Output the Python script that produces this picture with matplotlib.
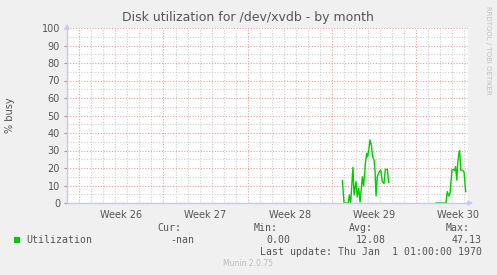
#!/usr/bin/env python3
# Munin style disk utilization graph (by month)

import matplotlib
matplotlib.use("Agg")
import matplotlib.pyplot as plt
from matplotlib.ticker import FixedLocator, MultipleLocator, NullFormatter

# data (x = days from left edge of graph, y = % busy)
days1 = [22.89, 23.03, 23.38, 23.47, 23.58, 23.77, 23.86, 24.02, 24.13, 24.25,
         24.36, 24.55, 24.66, 24.80, 24.91, 24.99, 25.08, 25.19, 25.30, 25.41,
         25.52, 25.60, 25.69, 25.79, 25.96, 26.08, 26.21, 26.35, 26.46, 26.63,
         26.74]
util1 = [12.7, 0.0, 0.0, 4.6, 0.0, 20.4, 4.6, 12.2, 3.6, 8.4,
         0.5, 15.0, 9.7, 22.7, 28.4, 26.5, 30.3, 36.0, 33.0, 26.5,
         24.6, 18.9, 4.0, 15.0, 17.9, 18.9, 12.2, 11.2, 19.2, 19.2,
         11.8]
days2 = [30.67, 31.50, 31.61, 31.73, 31.84, 32.00, 32.10, 32.23, 32.30, 32.40,
         32.48, 32.59, 32.64, 32.73, 32.89, 33.00, 33.14]
util2 = [0.0, 0.0, 6.5, 4.0, 5.5, 18.9, 19.2, 18.6, 20.8, 13.1,
         22.7, 29.3, 29.9, 18.9, 18.6, 17.9, 6.5]

week_pos = [1.02, 8.02, 15.02, 22.02, 29.02]
week_labels = ["Week 26", "Week 27", "Week 28", "Week 29", "Week 30"]

legend_name = "Utilization"
legend_cur = "-nan"
legend_min = "0.00"
legend_avg = "12.08"
legend_max = "47.13"
last_update = "Last update: Thu Jan  1 01:00:00 1970"

BG = "#F0F0F0"
MAJOR = "#E8A0A0"
MINOR = "#D0D0D0"
AXIS = "#C8C8F0"
TXT = "#555555"
GREEN = "#00CC00"

W, H = 497, 275
fig = plt.figure(figsize=(W / 100, H / 100), dpi=100, facecolor=BG)
ax = fig.add_axes([67 / W, (H - 203) / H, 401 / W, 175 / H])
ax.set_facecolor("white")

ax.plot(days1, util1, color=GREEN, linewidth=1.0)
ax.plot(days2, util2, color=GREEN, linewidth=1.0)

ax.set_xlim(0, 401 / 12.03)
ax.set_ylim(0, 100)

# grid
ax.xaxis.set_major_locator(FixedLocator(week_pos))
ax.xaxis.set_minor_locator(FixedLocator([week_pos[0] + d for d in range(-1, 33)]))
ax.yaxis.set_major_locator(MultipleLocator(10))
ax.yaxis.set_minor_locator(MultipleLocator(5))
ax.grid(which="minor", color=MINOR, linewidth=0.8, linestyle=(0, (1, 1.5)))
ax.grid(which="major", color=MAJOR, linewidth=0.8, linestyle=(0, (1, 1.5)))
ax.set_axisbelow(True)

ax.xaxis.set_major_formatter(NullFormatter())
ax.tick_params(axis="x", which="both", length=0)
ax.tick_params(axis="y", which="major", length=2, color="#999999",
               labelsize=7, labelcolor=TXT, pad=3)
ax.tick_params(axis="y", which="minor", length=0)

for x, lab in zip(week_pos, week_labels):
    ax.text(x + 3.5, -4, lab, ha="center", va="top", fontsize=7, color=TXT,
            transform=ax.transData, clip_on=False)

for s in ["top", "right"]:
    ax.spines[s].set_visible(False)
for s in ["left", "bottom"]:
    ax.spines[s].set_color(AXIS)
    ax.spines[s].set_linewidth(1.0)

# arrows at axis ends
ax.annotate("", xy=(0, 1.04), xytext=(0, 0.98), xycoords="axes fraction",
            arrowprops=dict(arrowstyle="-|>", color=AXIS, lw=1.0,
                            mutation_scale=7), annotation_clip=False)
ax.annotate("", xy=(1.02, 0), xytext=(0.99, 0), xycoords="axes fraction",
            arrowprops=dict(arrowstyle="-|>", color=AXIS, lw=1.0,
                            mutation_scale=7), annotation_clip=False)

fig.text(248 / W, 1 - 18 / H, "Disk utilization for /dev/xvdb - by month",
         ha="center", va="center", fontsize=9, color=TXT)
fig.text(10 / W, 1 - 115 / H, "% busy", rotation=90, ha="center",
         va="center", fontsize=7, color=TXT)
fig.text(488 / W, 1 - 6 / H, "RRDTOOL / TOBI OETIKER", rotation=270,
         ha="center", va="top", fontsize=5, color="#C0C0C0")

# legend block
mono = dict(family="DejaVu Sans Mono", fontsize=7.1, color=TXT)
fig.patches.append(plt.Rectangle((14 / W, 1 - 243 / H), 6 / W, 6 / H,
                                 transform=fig.transFigure,
                                 facecolor=GREEN, edgecolor="none"))
fig.text(26 / W, 1 - 240 / H, legend_name, ha="left", va="center", **mono)
for xr, head, val, xv in [(181, "Cur:", legend_cur, 194),
                          (278, "Min:", legend_min, 290),
                          (373, "Avg:", legend_avg, 386),
                          (470, "Max:", legend_max, 482)]:
    fig.text(xr / W, 1 - 228 / H, head, ha="right", va="center", **mono)
    fig.text(xv / W, 1 - 240 / H, val, ha="right", va="center", **mono)
fig.text(482 / W, 1 - 252 / H, last_update, ha="right", va="center", **mono)
fig.text(248 / W, 1 - 264 / H, "Munin 2.0.75", ha="center", va="center",
         fontsize=5.5, color="#BBBBBB")

fig.savefig("out.png", dpi=100, facecolor=BG)
